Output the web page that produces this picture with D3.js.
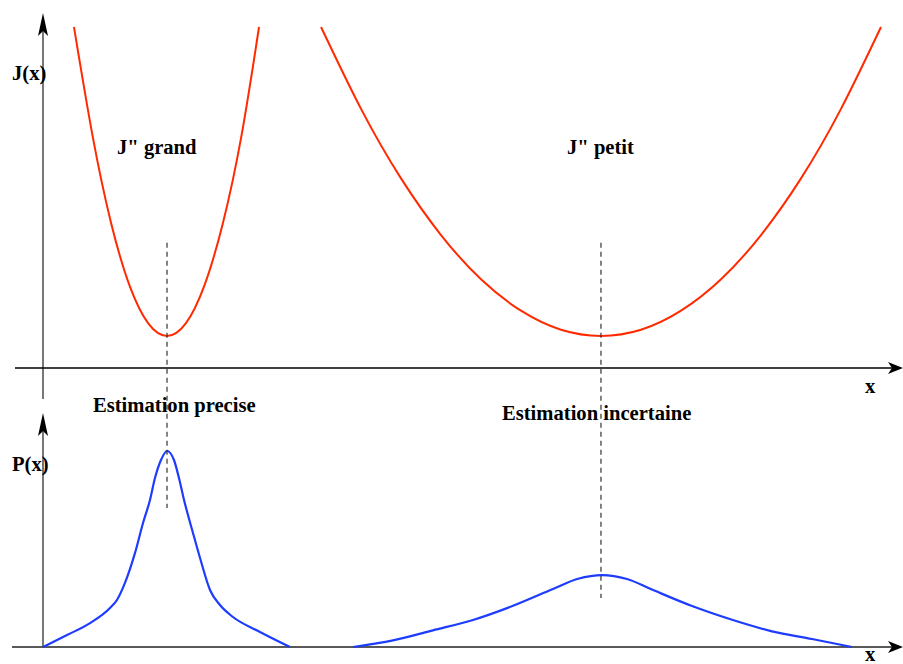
<!DOCTYPE html>
<html>
<head>
<meta charset="utf-8">
<script src="https://cdn.jsdelivr.net/npm/d3@7"></script>
<style>
  html, body { margin: 0; padding: 0; background: #fff; }
  svg { display: block; }
  text { font-family: "Liberation Serif", "Times New Roman", serif; font-weight: bold; font-size: 20.6px; fill: #000; }
</style>
</head>
<body>
<svg id="chart" width="903" height="664"></svg>
<script>
// ---- data (x in abstract units 0..10, J and P in abstract units) ----
const jGrandX = [0.36, 0.577, 0.793, 1.009, 1.226, 1.442, 1.658, 1.874, 2.091, 2.307, 2.512];
const jGrandY = [10.0, 6.80, 4.24, 2.40, 1.30, 0.94, 1.30, 2.40, 4.24, 6.80, 10.0];

const jPetitX = [3.233, 3.698, 4.163, 4.628, 5.093, 5.558, 6.023, 6.488, 6.953, 7.419, 7.884, 8.349, 8.814, 9.279, 9.744];
const jPetitY = [10.0, 7.60, 5.56, 3.90, 2.60, 1.68, 1.12, 0.94, 1.12, 1.68, 2.60, 3.90, 5.56, 7.60, 10.0];

const pPreciseX = [0, 0.279, 0.547, 0.779, 0.860, 0.953, 1.070, 1.163, 1.244, 1.302, 1.372, 1.442,
                   1.523, 1.581, 1.640, 1.744, 1.826, 1.942, 2.058, 2.209, 2.523, 2.872];
const pPreciseY = [0, 0.61, 1.22, 1.99, 2.40, 3.27, 4.80, 6.33, 7.50, 8.62, 9.54, 10.0,
                   9.54, 8.62, 7.50, 5.82, 4.54, 2.91, 2.14, 1.53, 0.77, 0];

const pIncertX = [3.605, 4.070, 4.535, 5.000, 5.465, 5.930, 6.221, 6.500, 6.791, 7.081, 7.547, 8.012, 8.477, 8.942, 9.407];
const pIncertY = [0, 0.34, 0.85, 1.38, 2.10, 2.96, 3.48, 3.67, 3.47, 2.93, 2.09, 1.39, 0.80, 0.41, 0];

// dashed guides: x position, top (J units), bottom (P units)
const guideX = [1.442, 6.488];
const guideTopJ = [3.67, 3.67];
const guideBottomP = [7.09, 2.50];

const labels = ["J(x)", "J\" grand", "J\" petit", "Estimation precise", "Estimation incertaine", "P(x)", "x", "x"];

// ---- scales ----
const x = d3.scaleLinear().domain([0, 10]).range([43, 903]);
const yJ = d3.scaleLinear().domain([0, 10]).range([368, 27]);
const yP = d3.scaleLinear().domain([0, 10]).range([647, 451]);

const svg = d3.select("#chart");

// ---- axes ----
function arrowUp(cx, tipY) {
  return `M${cx},${tipY} L${cx + 5},${tipY + 23} L${cx},${tipY + 18} L${cx - 5},${tipY + 23} Z`;
}
function arrowRight(tipX, cy) {
  return `M${tipX},${cy} L${tipX - 15},${cy - 6} L${tipX - 11},${cy} L${tipX - 15},${cy + 6} Z`;
}

// J vertical axis
svg.append("line").attr("x1", x(0)).attr("x2", x(0)).attr("y1", 399).attr("y2", 20)
  .attr("stroke", "#777").attr("stroke-width", 2);
svg.append("path").attr("d", arrowUp(x(0), 13)).attr("fill", "#000");
// J horizontal axis
svg.append("line").attr("x1", 15).attr("x2", 895).attr("y1", yJ(0)).attr("y2", yJ(0))
  .attr("stroke", "#000").attr("stroke-width", 1.5);
svg.append("path").attr("d", arrowRight(903, yJ(0))).attr("fill", "#000");

// P vertical axis
svg.append("line").attr("x1", x(0)).attr("x2", x(0)).attr("y1", yP(0)).attr("y2", 420)
  .attr("stroke", "#777").attr("stroke-width", 2);
svg.append("path").attr("d", arrowUp(x(0), 413)).attr("fill", "#000");
// P horizontal axis
svg.append("line").attr("x1", 12).attr("x2", 895).attr("y1", yP(0)).attr("y2", yP(0))
  .attr("stroke", "#222").attr("stroke-width", 1.5);
svg.append("path").attr("d", arrowRight(903, yP(0))).attr("fill", "#000");

// ---- curves ----
const lineJ = d3.line().x(d => x(d[0])).y(d => yJ(d[1])).curve(d3.curveNatural);
const lineP = d3.line().x(d => x(d[0])).y(d => yP(d[1])).curve(d3.curveMonotoneX);
const lineP2 = d3.line().x(d => x(d[0])).y(d => yP(d[1])).curve(d3.curveCatmullRom.alpha(0.5));

svg.append("path").datum(d3.zip(jGrandX, jGrandY)).attr("d", lineJ)
  .attr("fill", "none").attr("stroke", "#ff2a00").attr("stroke-width", 2);
svg.append("path").datum(d3.zip(jPetitX, jPetitY)).attr("d", lineJ)
  .attr("fill", "none").attr("stroke", "#ff2a00").attr("stroke-width", 2);

svg.append("path").datum(d3.zip(pPreciseX, pPreciseY)).attr("d", lineP)
  .attr("fill", "none").attr("stroke", "#1e3cff").attr("stroke-width", 2.2);
svg.append("path").datum(d3.zip(pIncertX, pIncertY)).attr("d", lineP2)
  .attr("fill", "none").attr("stroke", "#1e3cff").attr("stroke-width", 2.2);

// ---- labels ----
const labelPos = [
  [12, 80], [117, 154], [567, 154], [93, 412], [502, 420], [12, 471], [865, 393], [865, 661]
];
svg.selectAll("text.lbl").data(labels).enter().append("text")
  .attr("class", "lbl")
  .attr("x", (d, i) => labelPos[i][0])
  .attr("y", (d, i) => labelPos[i][1])
  .text(d => d);

// ---- dashed guides ----
svg.selectAll("line.guide").data(guideX).enter().append("line")
  .attr("class", "guide")
  .attr("x1", d => x(d)).attr("x2", d => x(d))
  .attr("y1", (d, i) => yJ(guideTopJ[i]))
  .attr("y2", (d, i) => yP(guideBottomP[i]))
  .attr("stroke", "#333").attr("stroke-width", 1.2)
  .attr("stroke-dasharray", "5,4");
</script>
</body>
</html>
